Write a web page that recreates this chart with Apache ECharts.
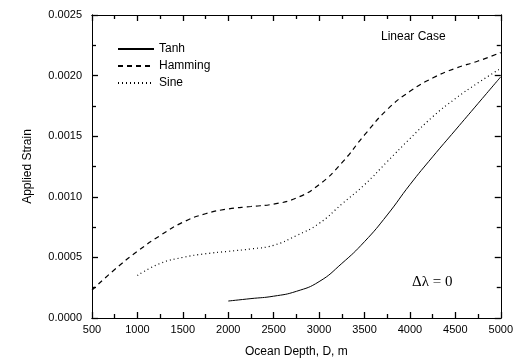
<!DOCTYPE html>
<html><head><meta charset="utf-8">
<script src="https://cdn.jsdelivr.net/npm/echarts@6/dist/echarts.min.js"></script>
<style>html,body{margin:0;padding:0;background:#fff}#c{width:516px;height:364px}</style>
</head><body><div id="c"></div>
<script>
const depthTicks = [500,1000,1500,2000,2500,3000,3500,4000,4500,5000];
const tanhX = [2000,2250,2500,2750,3000,3250,3500,3750,4000,4250,4500,4750,5000];
const tanhY = [0.00014,0.00016,0.00018,0.00022,0.0003,0.00045,0.00063,0.00085,0.0011,0.00133,0.00155,0.00177,0.00199];
const hammingX = [500,750,1000,1250,1500,1750,2000,2250,2500,2750,3000,3250,3500,3750,4000,4250,4500,4750,5000];
const hammingY = [0.00023,0.0004,0.00055,0.00068,0.00079,0.00086,0.0009,0.00092,0.00094,0.00099,0.0011,0.00128,0.00151,0.00172,0.00187,0.00198,0.00206,0.00212,0.00219];
const sineX = [1000,1250,1500,1750,2000,2250,2500,2750,3000,3250,3500,3750,4000,4250,4500,4750,5000];
const sineY = [0.00035,0.00045,0.0005,0.00053,0.00055,0.00057,0.0006,0.00068,0.00078,0.00094,0.0011,0.00129,0.00148,0.00166,0.00181,0.00194,0.00206];

const zip = (a,b)=>a.map((v,i)=>[v,b[i]]);
const font = 'Liberation Sans, Arial, sans-serif';
const chart = echarts.init(document.getElementById('c'));
const X_RANGE = {type:'value', min:500, max:5000, interval:500};
const Y_RANGE = {type:'value', min:0, max:0.0025, interval:0.0005};
function major(){ return {show:true, inside:true, length:6, lineStyle:{color:'black',width:1.3}}; }
function minor(){ return {show:true, splitNumber:2, length:4, lineStyle:{color:'black',width:1.3}}; }
function minorAxis(pos){
  return Object.assign({}, pos==='top'||pos==='bottom'?X_RANGE:Y_RANGE, {
    position:pos, axisLine:{show:true,onZero:false,lineStyle:{color:'black'}},
    axisTick:{show:false, inside:true}, minorTick:minor(),
    axisLabel:{show:false}, splitLine:{show:false}
  });
}
chart.setOption({
  animation:false,
  grid:{left:92,right:14,top:15,bottom:46},
  title:[
    {text:'Linear Case', left:381, top:31, padding:0,
     textStyle:{fontFamily:font,fontSize:12,fontWeight:'normal',color:'black'}},
    {text:'Δλ = 0', left:412, top:275, padding:0,
     textStyle:{fontFamily:'Liberation Serif, Times New Roman, serif',fontSize:15,fontWeight:'normal',color:'black'}}
  ],
  legend:{
    left:112, top:38, orient:'vertical', itemWidth:36, itemHeight:10, itemGap:5,
    itemStyle:{opacity:0},
    textStyle:{fontFamily:font,fontSize:12,color:'black'},
    data:['Tanh','Hamming','Sine']
  },
  xAxis:[Object.assign({}, X_RANGE, {
    position:'bottom',
    name:'Ocean Depth, D, m', nameLocation:'middle', nameGap:28,
    nameTextStyle:{fontFamily:font,fontSize:12,color:'black'},
    axisLine:{show:true,onZero:false,lineStyle:{color:'black'}},
    axisTick:major(),
    axisLabel:{fontFamily:font,fontSize:11,color:'black',margin:6,
      formatter:v=>depthTicks.includes(v)?String(v):''},
    splitLine:{show:false}
  }), Object.assign({}, X_RANGE, {
    position:'top',
    axisLine:{show:true,onZero:false,lineStyle:{color:'black'}},
    axisTick:major(), axisLabel:{show:false}, splitLine:{show:false}
  }), minorAxis('bottom'), minorAxis('top')],
  yAxis:[Object.assign({}, Y_RANGE, {
    position:'left',
    name:'Applied Strain', nameLocation:'middle', nameGap:58,
    nameTextStyle:{fontFamily:font,fontSize:12,color:'black'},
    axisLine:{show:true,onZero:false,lineStyle:{color:'black'}},
    axisTick:major(),
    axisLabel:{fontFamily:font,fontSize:11,color:'black',margin:10,formatter:v=>v.toFixed(4)},
    splitLine:{show:false}
  }), Object.assign({}, Y_RANGE, {
    position:'right',
    axisLine:{show:true,onZero:false,lineStyle:{color:'black'}},
    axisTick:major(), axisLabel:{show:false}, splitLine:{show:false}
  }), minorAxis('left'), minorAxis('right')],
  series:[
    {name:'Tanh',type:'line',smooth:true,symbol:'none',data:zip(tanhX,tanhY),
     lineStyle:{color:'black',width:1,type:'solid'},itemStyle:{color:'black'}},
    {name:'Hamming',type:'line',smooth:true,symbol:'none',data:zip(hammingX,hammingY),
     lineStyle:{color:'black',width:1.2,type:[5,4]},itemStyle:{color:'black'}},
    {name:'Sine',type:'line',smooth:true,symbol:'none',data:zip(sineX,sineY),
     lineStyle:{color:'black',width:1.2,type:[1,3]},itemStyle:{color:'black'}}
  ]
});
</script></body></html>
